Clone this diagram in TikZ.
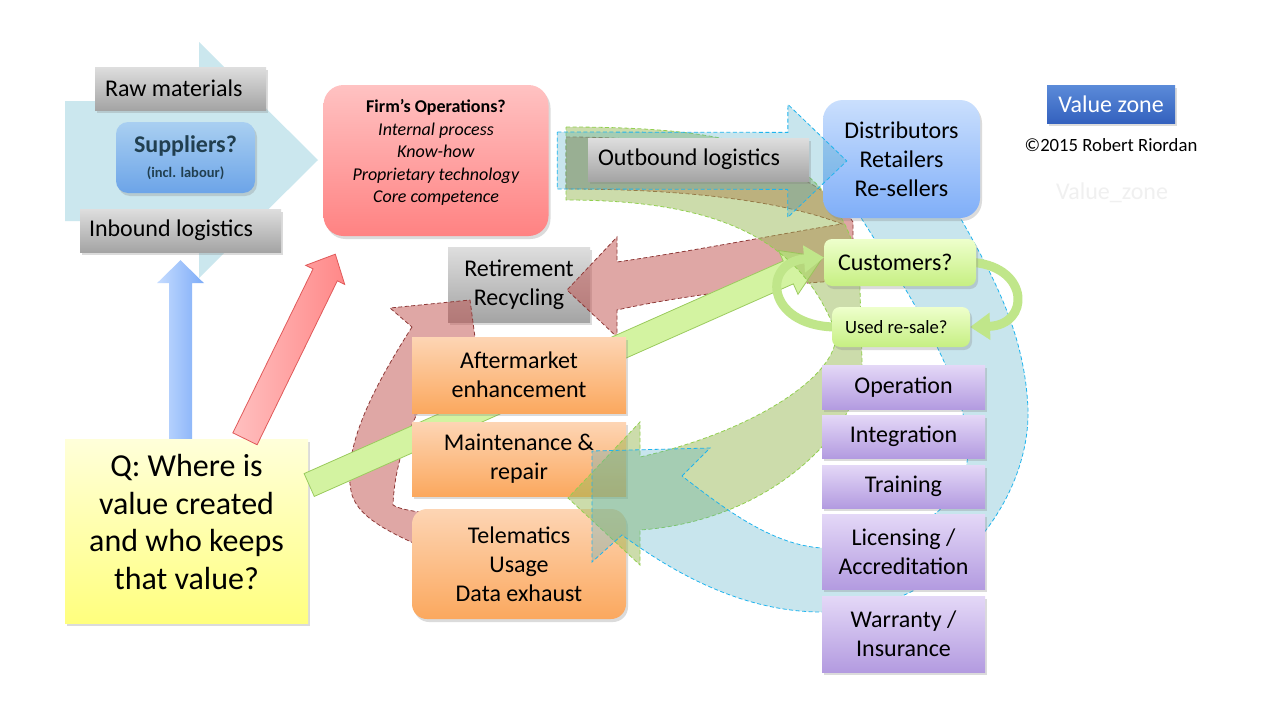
\documentclass[tikz,border=0pt]{standalone}
\usepackage{fontspec}
\setmainfont{Carlito}
\usetikzlibrary{positioning,calc,shadows,arrows.meta}
\definecolor{grtop}{HTML}{DEDEDE}
\definecolor{grbot}{HTML}{A4A4A4}
\definecolor{sptop}{HTML}{A9CFF1}
\definecolor{spbot}{HTML}{6CA4E8}
\definecolor{fmtop}{HTML}{FFC2C2}
\definecolor{fmbot}{HTML}{FF8282}
\definecolor{dstop}{HTML}{CADFFD}
\definecolor{dsbot}{HTML}{7FAEF8}
\definecolor{ortop}{HTML}{FDD5B4}
\definecolor{orbot}{HTML}{FBA85E}
\definecolor{gntop}{HTML}{EEFFCC}
\definecolor{gnbot}{HTML}{C6EF82}
\definecolor{pptop}{HTML}{E4D8F7}
\definecolor{ppbot}{HTML}{B39BE0}
\definecolor{yltop}{HTML}{FFFFDA}
\definecolor{ylbot}{HTML}{FFFF7E}
\definecolor{vztop}{HTML}{5B8BD9}
\definecolor{vzbot}{HTML}{3461BE}
\definecolor{suparrow}{HTML}{CBE7EE}
\definecolor{supptext}{HTML}{213F50}
\definecolor{accred}{HTML}{C0504D}
\definecolor{accgreen}{HTML}{9BBB59}
\definecolor{acccyan}{HTML}{4BACC6}
\definecolor{dashred}{HTML}{8E3A38}
\definecolor{dashgreen}{HTML}{92D050}
\definecolor{dashcyan}{HTML}{1FB4EE}
\definecolor{gnarrfill}{HTML}{D3F3A1}
\definecolor{gnarrline}{HTML}{9BCB5E}
\definecolor{rdarrleft}{HTML}{FFC0C0}
\definecolor{rdarrright}{HTML}{FF8888}
\definecolor{rdarrline}{HTML}{E05A5A}
\definecolor{blarrleft}{HTML}{C6DCFF}
\definecolor{blarrright}{HTML}{7DACF7}
\definecolor{loopgreen}{HTML}{C0E68A}
\tikzstyle{slide} = [inner sep=2pt, align=center, font=\fontsize{24}{29}\selectfont, drop shadow={opacity=0.28, shadow xshift=2pt, shadow yshift=-3pt}]
\tikzstyle{graybox} = [slide, top color=grtop, bottom color=grbot]
\tikzstyle{suppbox} = [slide, rounded corners=12pt, top color=sptop, bottom color=spbot, text=supptext]
\tikzstyle{firmbox} = [slide, rounded corners=20pt, top color=fmtop, bottom color=fmbot]
\tikzstyle{distbox} = [slide, rounded corners=20pt, top color=dstop, bottom color=dsbot]
\tikzstyle{orangebox} = [slide, top color=ortop, bottom color=orbot]
\tikzstyle{custbox} = [slide, rounded corners=8pt, top color=gntop, bottom color=gnbot]
\tikzstyle{purplebox} = [slide, top color=pptop, bottom color=ppbot, minimum width=163pt]
\tikzstyle{qbox} = [slide, top color=yltop, bottom color=ylbot]
\tikzstyle{vzbox} = [slide, top color=vztop, bottom color=vzbot, text=white]
\tikzstyle{bluearr} = [left color=blarrleft, right color=blarrright, draw=none]
\tikzstyle{redarr} = [left color=rdarrleft, right color=rdarrright, draw=rdarrline, line width=0.8pt]
\tikzstyle{greenarr} = [fill=gnarrfill, draw=gnarrline, line width=0.8pt]
\tikzstyle{flow} = [line width=0.8pt, dash pattern=on 4pt off 2.5pt, fill opacity=0.5]
\tikzstyle{flowred} = [flow, fill=accred, draw=dashred]
\tikzstyle{flowgreen} = [flow, fill=accgreen, draw=dashgreen]
\tikzstyle{flowcyan} = [flow, fill=acccyan, fill opacity=0.3, draw=dashcyan]
\tikzstyle{resale} = [line width=9pt, draw=loopgreen, -{Triangle[length=20pt,width=26pt]}]
% block arrow: style, tail, tip, half shaft, half head, head length
\newcommand{\blockarrow}[6]{%
  \coordinate (ba-base) at ($(#3)!#6!(#2)$);
  \draw[#1] ($(#2)!#4!90:(#3)$) -- ($(ba-base)!#4!-90:(#2)$)
    -- ($(ba-base)!#5!-90:(#2)$) -- (#3)
    -- ($(ba-base)!#5!90:(#2)$) -- ($(ba-base)!#4!90:(#2)$)
    -- ($(#2)!#4!-90:(#3)$) -- cycle;}
\begin{document}
\begin{tikzpicture}[x=1pt,y=-1pt]
      \useasboundingbox (0,0) rectangle (1280,720);
      \fill[white] (0,0) rectangle (1280,720);
      % supply side
      \fill[suparrow] (65,101) -- (199,101) -- (199,42) -- (318,160) -- (199,278) -- (199,221) -- (65,221) -- cycle;
      \node[graybox, minimum width=171pt, minimum height=43pt, text width=151pt, align=flush left] (raw) at (180.5,88.5) {Raw materials};
      \node[suppbox, minimum width=139pt, minimum height=71pt] (supp) at (185.5,157.5) {\textbf{Suppliers?}\\[-4pt]{\fontsize{14.5}{17}\selectfont\bfseries (incl. labour)}};
      \node[graybox, minimum width=201pt, minimum height=43pt, text width=183pt, align=flush left] (inb) at (180.5,230.5) {Inbound logistics};
      \node[firmbox, minimum width=225pt, minimum height=151pt] (firm) at (436,160.5) {};
      \node[align=center, font=\fontsize{18}{22.5}\selectfont] (firmtxt) at ($(firm.center)+(0,-8)$) {\textbf{Firm’s Operations?}\\\textit{Internal process}\\\textit{Know-how}\\\textit{Proprietary technology}\\\textit{Core competence}};
      \node[qbox, minimum width=243pt, minimum height=184pt] (q) at (186.5,531) {};
      \node[align=center, font=\fontsize{32}{37.5}\selectfont] (qtxt) at ($(q.center)+(0,-9)$) {Q: Where is\\value created\\and who keeps\\that value?};
      % arrows out of the question
      \coordinate (bt) at (q.north -| inb.south);
      \coordinate (bh) at ($(inb.south)+(0,8)$);
      \blockarrow{bluearr}{bt}{bh}{11.5pt}{23.5pt}{23pt}
      \coordinate (rt) at ($(q.north)+(58.5,0)$);
      \coordinate (rh) at ($(firm.south west)+(12,18)$);
      \blockarrow{redarr}{rt}{rh}{13.5pt}{21.7pt}{23pt}
      % end of life loops
      \node[graybox, minimum width=142pt, minimum height=75pt] (retire) at (519,284.5) {Retirement\\Recycling};
      \filldraw[flowred] (412,327) .. controls (375,385) and (340,450) .. (352,495) .. controls (360,520) and (395,535) .. (440,555) -- (440,515) .. controls (420,512) and (400,510) .. (393,505) .. controls (395,450) and (420,400) .. (453,355) -- (480,375) -- (470,300) -- (390,308) -- cycle;
      \filldraw[flowred] (566,137) .. controls (720,137) and (820,170) .. (853,222) -- (853,280) .. controls (760,285) and (670,298) .. (617,310) -- (617,337) -- (567,290) -- (617,237) -- (617,262) .. controls (700,250) and (790,232) .. (842,224) .. controls (780,200) and (680,189) .. (566,189) -- cycle;
      \coordinate (gt) at ($(q.east)+(1,-46)$);
      \coordinate (gh) at (823,257);
      \blockarrow{greenarr}{gt}{gh}{12.5pt}{24pt}{38pt}
      % aftermarket
      \node[orangebox, minimum width=214pt, minimum height=76pt] (after) at (519,375) {Aftermarket\\enhancement};
      \node[orangebox, minimum width=214pt, minimum height=74pt] (maint) at (519,459) {Maintenance \&\\repair};
      \node[orangebox, rounded corners=15pt, minimum width=214pt, minimum height=110pt] (telem) at (519,564) {Telematics\\Usage\\Data exhaust};
      \filldraw[flowgreen] (566,127) .. controls (720,127) and (790,145) .. (830,200) .. controls (855,235) and (860,265) .. (860,290) -- (862,360) .. controls (865,420) and (780,520) .. (640,530) -- (640,565) -- (568,498) -- (640,422) -- (640,457) .. controls (760,430) and (845,370) .. (835,330) .. controls (800,240) and (720,200) .. (566,200) -- cycle;
      \filldraw[flowcyan] (682,476) -- (710,448) -- (592,451) -- (592,562) -- (622,535) .. controls (670,570) and (740,612) .. (822,612) .. controls (950,612) and (1030,500) .. (1028,410) .. controls (1025,330) and (990,270) .. (953,205) -- (853,205) .. controls (900,280) and (968,380) .. (968,450) .. controls (968,510) and (900,548) .. (822,548) .. controls (770,545) and (720,505) .. (682,476) -- cycle;
      % distribution
      \node[distbox, minimum width=157pt, minimum height=118pt] (dist) at (901.5,159) {Distributors\\Retailers\\Re-sellers};
      \coordinate (ct) at ($(firm.east)+(8.5,0)$);
      \coordinate (ch) at ($(dist.west)+(24,2)$);
      \blockarrow{flowcyan}{ct}{ch}{28.5pt}{56.5pt}{59pt}
      \node[graybox, minimum width=221pt, minimum height=43pt, text width=201pt, align=flush left] (outb) at (698.5,159.5) {Outbound logistics};
      % customers and re-sale loop
      \coordinate (usedw) at (834,327);
      \coordinate (usede) at (970,327);
      \coordinate (custw) at (824,257.5);
      \coordinate (custe) at (974,262.5);
      \draw[resale] (usedw) .. controls (765,325) and (762,262) .. (custw);
      \draw[resale] (custe) .. controls (1030,268) and (1030,325) .. (usede);
      \node[custbox, minimum width=152pt, minimum height=47pt, text width=124pt, align=flush left] (cust) at (900,262.5) {Customers?};
      \node[custbox, minimum width=138pt, minimum height=40pt, text width=112pt, align=flush left, font=\fontsize{18.7}{22}\selectfont] (used) at (901,327) {Used re-sale?};
      % services
      \node[purplebox, minimum height=44pt] (oper) at (903.5,387) {Operation};
      \node[purplebox, minimum height=43pt] (integ) at (903.5,436.5) {Integration};
      \node[purplebox, minimum height=43pt] (train) at (903.5,486.5) {Training};
      \node[purplebox, minimum height=75pt] (lic) at (903.5,551.5) {Licensing /\\Accreditation};
      \node[purplebox, minimum height=76pt] (warr) at (903.5,634) {Warranty /\\Insurance};
      % legend
      \node[vzbox, minimum width=128pt, minimum height=38pt] (vz) at (1111,104) {Value zone};
      \node[font=\fontsize{18.7}{22}\selectfont] (copy) at (1111,145) {©2015 Robert Riordan};
      \node[font=\fontsize{24}{29}\selectfont, text=black!6] (vzname) at (1112,193) {Value\_zone};
\end{tikzpicture}
\end{document}
